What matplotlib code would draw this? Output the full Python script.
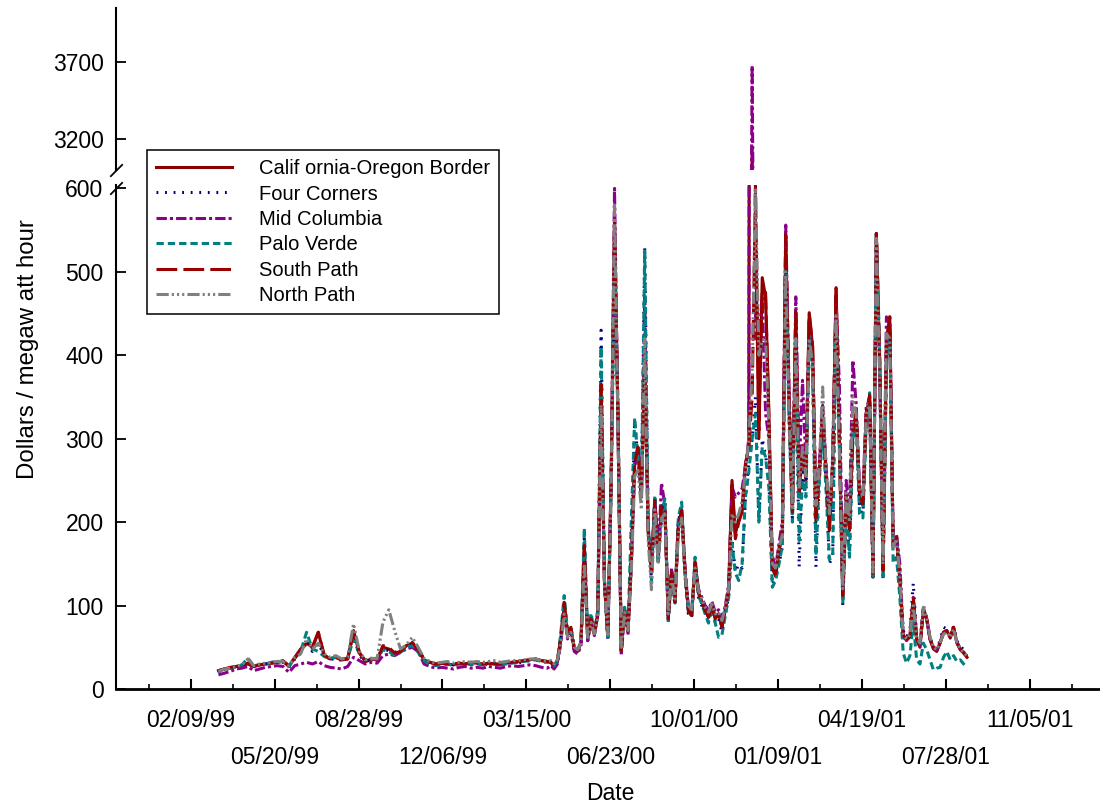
import numpy as np
import matplotlib
matplotlib.use("Agg")
import matplotlib.pyplot as plt
import matplotlib.dates as mdates

plt.rcParams["font.family"] = ["Liberation Sans", "DejaVu Sans"]

# sample dates: weekly through the quiet 1999 period, every 4 days afterwards
dates_a = np.datetime64("1999-03-14") + np.arange(57) * 7
dates_b = np.datetime64("2000-04-13") + np.arange(125) * 4
dates = np.concatenate([dates_a, dates_b])

# $/MWh, quiet period (Mar 1999 - Apr 2000)
cob_a = [22, 24, 25, 27, 28, 31, 27, 29, 30, 31, 32, 33, 27, 38, 48, 55, 50, 68, 40, 36,
         38, 35, 36, 70, 43, 33, 36, 35, 50, 48, 42, 45, 52, 55, 47, 35, 32, 30, 31, 30,
         29, 31, 30, 32, 31, 30, 31, 30, 29, 31, 32, 33, 34, 35, 36, 34, 33]
fc_a = [20, 23, 25, 27, 29, 33, 27, 29, 30, 31, 33, 32, 26, 36, 44, 58, 45, 55, 40, 35,
        37, 34, 37, 62, 40, 33, 35, 36, 48, 46, 44, 46, 50, 54, 48, 36, 31, 29, 30, 31,
        29, 30, 31, 30, 31, 29, 30, 31, 30, 30, 32, 31, 33, 34, 35, 33, 32]
midc_a = [17, 19, 21, 24, 25, 27, 22, 24, 26, 27, 28, 27, 20, 28, 30, 32, 30, 33, 28, 26,
          25, 24, 27, 38, 34, 30, 32, 31, 40, 42, 40, 44, 48, 50, 45, 30, 27, 25, 26, 25,
          24, 26, 27, 25, 26, 25, 27, 26, 25, 27, 28, 27, 28, 29, 28, 26, 25]
pv_a = [21, 24, 25, 27, 29, 37, 28, 29, 30, 32, 33, 33, 27, 37, 45, 68, 48, 45, 39, 37,
        38, 36, 37, 60, 42, 35, 36, 37, 47, 45, 40, 44, 50, 52, 44, 34, 30, 28, 29, 30,
        28, 30, 31, 29, 30, 29, 30, 31, 29, 30, 31, 32, 33, 34, 35, 33, 32]
sp_a = [22, 24, 26, 27, 28, 30, 27, 29, 30, 31, 32, 34, 28, 37, 47, 54, 50, 68, 41, 36,
        38, 35, 36, 68, 44, 33, 36, 35, 52, 50, 43, 45, 52, 56, 47, 35, 32, 30, 31, 30,
        30, 31, 30, 32, 31, 30, 31, 30, 30, 31, 32, 33, 34, 35, 36, 34, 33]
np_a = [21, 24, 25, 27, 29, 36, 28, 30, 31, 32, 33, 33, 28, 38, 42, 60, 48, 55, 42, 38,
        40, 36, 38, 78, 45, 35, 37, 36, 80, 95, 70, 48, 53, 62, 50, 37, 33, 31, 32, 33,
        31, 32, 33, 32, 33, 32, 33, 34, 32, 33, 34, 34, 35, 36, 36, 34, 33]

# crisis period (Apr 2000 - Aug 2001)
cob_b = [32, 27, 34, 60, 100, 65, 72, 48, 45, 55,
         170, 60, 82, 65, 88, 360, 130, 62, 250, 560,
         330, 45, 95, 68, 150, 270, 285, 230, 390, 190,
         140, 225, 155, 220, 215, 85, 140, 105, 195, 212,
         140, 95, 90, 150, 115, 105, 95, 86, 100, 85,
         90, 74, 95, 118, 250, 185, 205, 215, 270, 290,
         3150, 560, 300, 493, 470, 330, 145, 135, 165, 185,
         541, 340, 210, 450, 230, 290, 250, 451, 410, 200,
         260, 330, 260, 190, 270, 481, 290, 110, 230, 190,
         306, 330, 230, 220, 330, 350, 134, 546, 390, 140,
         400, 446, 170, 180, 130, 62, 59, 62, 105, 59,
         50, 95, 83, 59, 48, 45, 55, 67, 70, 61,
         74, 55, 47, 43, 38]
fc_b = [30, 26, 33, 58, 95, 62, 68, 46, 44, 52,
        180, 58, 85, 66, 90, 430, 125, 60, 240, 505,
        340, 48, 100, 70, 165, 320, 275, 235, 530, 200,
        130, 230, 150, 205, 225, 80, 135, 100, 200, 220,
        135, 90, 85, 155, 110, 100, 92, 80, 95, 80,
        85, 68, 90, 112, 180, 140, 150, 145, 230, 270,
        300, 350, 200, 300, 280, 250, 125, 135, 150, 170,
        520, 330, 200, 420, 146, 260, 230, 420, 390, 146,
        250, 320, 250, 150, 160, 460, 300, 100, 220, 160,
        300, 320, 215, 210, 320, 350, 130, 545, 380, 130,
        390, 440, 180, 185, 140, 70, 62, 70, 127, 62,
        55, 100, 85, 62, 50, 48, 58, 74, 72, 65,
        75, 58, 50, 48, 42]
midc_b = [28, 24, 30, 55, 95, 60, 70, 45, 42, 52,
          165, 58, 80, 64, 95, 350, 130, 60, 255, 600,
          320, 40, 92, 65, 150, 265, 290, 230, 470, 195,
          145, 230, 160, 247, 220, 88, 145, 110, 200, 210,
          145, 98, 95, 150, 120, 110, 100, 95, 105, 92,
          95, 85, 100, 125, 242, 230, 235, 240, 266, 300,
          3680, 420, 420, 470, 330, 300, 160, 145, 175, 200,
          556, 360, 220, 470, 260, 370, 270, 440, 400, 230,
          270, 340, 270, 200, 280, 470, 362, 120, 250, 210,
          394, 340, 240, 235, 340, 345, 140, 540, 380, 150,
          446, 440, 180, 185, 150, 65, 58, 64, 110, 62,
          52, 96, 85, 60, 50, 47, 56, 68, 70, 62,
          73, 56, 48, 44, 40]
pv_b = [33, 28, 35, 67, 112, 70, 74, 50, 47, 56,
        193, 62, 91, 68, 92, 410, 130, 62, 245, 520,
        340, 46, 98, 72, 202, 325, 275, 240, 525, 200,
        130, 232, 150, 210, 228, 82, 138, 103, 205, 224,
        138, 92, 88, 158, 112, 102, 90, 79, 98, 79,
        62, 65, 88, 110, 175, 139, 130, 150, 230, 260,
        300, 330, 200, 290, 278, 240, 122, 130, 150, 172,
        520, 320, 200, 420, 178, 250, 230, 430, 380, 160,
        250, 310, 240, 155, 160, 457, 300, 103, 215, 158,
        300, 320, 210, 205, 320, 355, 135, 548, 400, 135,
        390, 430, 151, 158, 110, 43, 31, 40, 80, 35,
        30, 55, 47, 35, 23, 25, 26, 38, 45, 35,
        40, 33, 35, 30, 26]
sp_b = [32, 28, 34, 62, 104, 68, 74, 49, 46, 56,
        172, 61, 84, 66, 91, 365, 128, 62, 252, 560,
        335, 46, 96, 70, 155, 272, 290, 232, 392, 192,
        140, 226, 158, 218, 218, 84, 142, 104, 196, 214,
        142, 93, 88, 152, 116, 104, 94, 86, 100, 84,
        90, 74, 96, 118, 245, 180, 200, 212, 268, 290,
        350, 600, 310, 480, 475, 320, 145, 138, 168, 188,
        545, 345, 212, 452, 235, 292, 252, 450, 412, 205,
        262, 335, 262, 192, 272, 480, 292, 112, 232, 192,
        310, 332, 232, 222, 332, 352, 136, 546, 392, 142,
        420, 446, 172, 182, 132, 64, 60, 63, 110, 60,
        52, 96, 84, 60, 49, 46, 56, 68, 70, 62,
        74, 56, 48, 44, 39]
np_b = [34, 30, 35, 55, 90, 62, 68, 50, 47, 55,
        150, 62, 80, 66, 85, 340, 125, 65, 240, 580,
        320, 50, 92, 70, 140, 255, 262, 215, 420, 180,
        119, 215, 150, 205, 210, 90, 135, 108, 185, 205,
        140, 100, 95, 145, 118, 108, 98, 92, 102, 90,
        92, 82, 98, 120, 210, 200, 210, 225, 260, 300,
        380, 600, 400, 418, 420, 310, 150, 145, 170, 185,
        500, 330, 215, 420, 240, 290, 255, 420, 390, 220,
        265, 362, 265, 210, 275, 450, 280, 120, 235, 200,
        350, 330, 240, 230, 330, 340, 140, 540, 370, 150,
        426, 420, 170, 180, 135, 65, 60, 65, 100, 62,
        55, 98, 85, 62, 50, 47, 56, 66, 68, 62,
        72, 56, 48, 44, 40]

names = ["Calif ornia-Oregon Border", "Four Corners", "Mid Columbia",
         "Palo Verde", "South Path", "North Path"]
series = [cob_a + cob_b, fc_a + fc_b, midc_a + midc_b,
          pv_a + pv_b, sp_a + sp_b, np_a + np_b]
styles = [
    dict(color="#8b0000", linestyle="-", lw=2.2),
    dict(color="#000080", linestyle=(0, (0.6, 2.2)), lw=2.2),
    dict(color="#8b008b", linestyle=(0, (3.4, 1.0, 1.0, 1.0)), lw=2.2),
    dict(color="#008080", linestyle=(0, (2.4, 1.3)), lw=2.2),
    dict(color="#990000", linestyle=(0, (6.8, 2.0)), lw=2.2),
    dict(color="#808080", linestyle=(0, (4.0, 1.0, 0.7, 1.0, 0.7, 1.0, 0.7, 1.0)), lw=2.2),
]

fig = plt.figure(figsize=(11, 8.09), dpi=100)
ax_top = fig.add_axes([0.1055, 0.7899, 0.8945, 0.2002])
ax_bot = fig.add_axes([0.1055, 0.1483, 0.8945, 0.6230])

handles = []
for name, vals, st in zip(names, series, styles):
    for ax in (ax_top, ax_bot):
        line, = ax.plot(dates, vals, label=name, **st)
    handles.append(line)

ax_bot.set_ylim(0, 604)
ax_top.set_ylim(3000, 4054)
ax_bot.set_yticks([0, 100, 200, 300, 400, 500, 600])
ax_top.set_yticks([3200, 3700])

base = np.datetime64("1999-02-09")
major = np.array([base + 100 * k for k in range(11)])
minor = np.array([base + 50 + 100 * k for k in range(-1, 11)])
labels = []
for k, d in enumerate(major):
    txt = d.astype(object).strftime("%m/%d/%y")
    labels.append(txt if k % 2 == 0 else "\n" + txt)

x0 = mdates.date2num(base)
for ax in (ax_top, ax_bot):
    ax.set_xlim(x0 - 89, x0 + 1083.5)
    for side in ("top", "right"):
        ax.spines[side].set_visible(False)
    ax.spines["left"].set_linewidth(1.5)
    ax.tick_params(axis="y", direction="in", length=7, width=1.3,
                   labelsize=16.5, pad=9)

ax_top.spines["bottom"].set_visible(False)
ax_top.set_xticks([])

ax_bot.spines["bottom"].set_linewidth(2)
ax_bot.set_xticks(mdates.date2num(major))
ax_bot.set_xticklabels(labels)
ax_bot.set_xticks(mdates.date2num(minor), minor=True)
ax_bot.tick_params(axis="x", which="major", direction="in", length=7.5, width=1.5,
                   labelsize=16.5, pad=14.3)
ax_bot.tick_params(axis="x", which="minor", direction="in", length=3.8, width=1.2)
for t in ax_bot.get_xticklabels():
    t.set_linespacing(1.78)

# break marks on the y axis
brk = dict(marker=[(-1, -1), (1, 1)], markersize=9, linestyle="none",
           color="k", mec="k", mew=1.3, clip_on=False)
ax_top.plot([0], [0], transform=ax_top.transAxes, **brk)
ax_bot.plot([0], [0.995], transform=ax_bot.transAxes, **brk)

fig.legend(handles, names, loc="upper left", bbox_to_anchor=(147 / 1100, 1 - 150 / 809),
           borderaxespad=0, fontsize=14.5, frameon=True, fancybox=False,
           edgecolor="black", framealpha=1, handlelength=3.75, handletextpad=1.35,
           labelspacing=0.32, borderpad=0.45)
leg = fig.legends[0]
leg.get_frame().set_linewidth(1.1)

fig.text(28 / 1100, 1 - 349 / 809, "Dollars / megaw att hour", rotation=90,
         ha="center", va="center", fontsize=17.3)
fig.text(610 / 1100, 1 - 793 / 809, "Date", ha="center", va="center", fontsize=16.5)

fig.savefig("out.png", dpi=100)
